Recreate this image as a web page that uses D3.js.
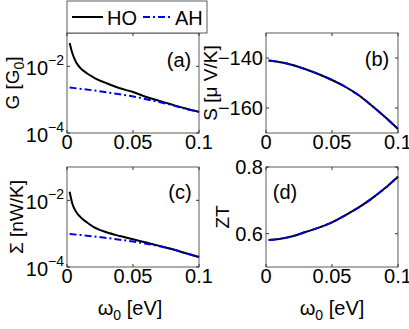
<!DOCTYPE html>
<html>
<head>
<meta charset="utf-8">
<script src="https://cdn.jsdelivr.net/npm/d3@7"></script>
<style>
  body { margin: 0; background: #fff; }
  text { font-family: "Liberation Sans Narrow", "Liberation Sans", Arial, sans-serif; }
</style>
</head>
<body>
<script>
// Define data
const omegaHO = [0.002, 0.004, 0.007, 0.01, 0.015, 0.02, 0.03, 0.04, 0.05, 0.06, 0.07, 0.08, 0.09, 0.1];
const gHO = [0.05, 0.025, 0.013, 0.009, 0.0062, 0.0047, 0.0031, 0.0022, 0.0017, 0.0012, 0.00092, 0.0007, 0.00054, 0.00043];
const sigmaHO = [0.018, 0.008, 0.0045, 0.0032, 0.0022, 0.0016, 0.0011, 0.00085, 0.00068, 0.00054, 0.00043, 0.00034, 0.00026, 0.0002];

const omegaAH = [0.002, 0.02, 0.04, 0.05, 0.06, 0.07, 0.08, 0.09, 0.1];
const gAH = [0.0023, 0.0019, 0.00145, 0.00125, 0.00103, 0.00085, 0.00068, 0.00053, 0.00043];
const sigmaAH = [0.00098, 0.00083, 0.00066, 0.00058, 0.0005, 0.00042, 0.00034, 0.00026, 0.0002];

const omegaS = [0.002, 0.01, 0.02, 0.03, 0.04, 0.05, 0.06, 0.07, 0.08, 0.09, 0.1];
const sHO = [-141, -141.6, -142.8, -144.5, -146.5, -148.8, -151.5, -154.8, -159, -163.5, -168.4];
const sAH = sHO.slice();
const ztHO = [0.581, 0.584, 0.592, 0.605, 0.618, 0.634, 0.655, 0.678, 0.705, 0.736, 0.771];
const ztAH = ztHO.slice();

const xTicks = [0, 0.05, 0.1];

const svg = d3.select("body").append("svg")
    .attr("width", 409)
    .attr("height", 329);

const boxW = 132, boxH = 100;
const fs = "20px";

function panel(opt) {
  const g = svg.append("g").attr("transform", "translate(" + opt.left + "," + opt.top + ")");
  const x = d3.scaleLinear().domain([0, 0.1]).range([0, boxW]);
  const y = opt.log
    ? d3.scaleLog().domain([1e-4, 1e-1]).range([boxH, 0])
    : d3.scaleLinear().domain(opt.domain).range([boxH, 0]);

  // frame
  g.append("rect").attr("width", boxW).attr("height", boxH)
    .attr("fill", "#fff").attr("stroke", "#333").attr("stroke-width", 0.8);

  // x ticks (inside, top and bottom)
  xTicks.forEach(function(t) {
    g.append("line").attr("x1", x(t)).attr("x2", x(t)).attr("y1", boxH).attr("y2", boxH - 3).attr("stroke", "#333");
    g.append("line").attr("x1", x(t)).attr("x2", x(t)).attr("y1", 0).attr("y2", 3).attr("stroke", "#333");
    g.append("text").attr("x", x(t)).attr("y", boxH + 16)
      .attr("text-anchor", "middle").style("font-size", fs)
      .text(t === 0 ? "0" : String(t));
  });

  // y ticks
  opt.yTicks.forEach(function(t) {
    g.append("line").attr("x1", 0).attr("x2", 3).attr("y1", y(t)).attr("y2", y(t)).attr("stroke", "#333");
    g.append("line").attr("x1", boxW).attr("x2", boxW - 3).attr("y1", y(t)).attr("y2", y(t)).attr("stroke", "#333");
    if (opt.log) {
      const lab = g.append("text").attr("x", -3).attr("y", y(t) + 9)
        .attr("text-anchor", "end").style("font-size", fs);
      lab.append("tspan").text("10");
      lab.append("tspan").attr("dy", -10).style("font-size", "14px").text("\u2212" + Math.round(-Math.log10(t)));
    } else {
      g.append("text").attr("x", -3).attr("y", y(t) + 7)
        .attr("text-anchor", "end").style("font-size", fs)
        .text(d3.format("")(t).replace("-", "\u2212"));
    }
  });

  const line = d3.line().x(d => x(d[0])).y(d => y(d[1])).curve(d3.curveMonotoneX);

  g.append("path").datum(d3.zip(opt.xHO, opt.yHO))
    .attr("d", line).attr("fill", "none").attr("stroke", "#000").attr("stroke-width", 2);
  g.append("path").datum(d3.zip(opt.xAH, opt.yAH))
    .attr("d", line).attr("fill", "none").attr("stroke", "#0000ee").attr("stroke-width", 2)
    .attr("stroke-dasharray", "7,3,2,3");

  // panel letter
  g.append("text").attr("x", opt.letterX).attr("y", opt.letterY)
    .attr("text-anchor", "middle").style("font-size", fs).text(opt.letter);

  // y label
  const yl = g.append("text")
    .attr("transform", "translate(" + opt.yLabelX + "," + (boxH / 2) + ") rotate(-90)")
    .attr("text-anchor", "middle").style("font-size", "19px");
  opt.yLabel(yl);
}

function sub(el, main, s, rest) {
  el.append("tspan").text(main);
  el.append("tspan").attr("dy", 5).style("font-size", "14px").text(s);
  el.append("tspan").attr("dy", -5).text(rest);
}

panel({
  left: 67, top: 33, log: true, yTicks: [1e-2, 1e-4],
  xHO: omegaHO, yHO: gHO, xAH: omegaAH, yAH: gAH,
  letter: "(a)", letterX: 112, letterY: 34,
  yLabelX: -48, yLabel: el => sub(el, "G [G", "0", "]")
});
panel({
  left: 266, top: 33, domain: [-170, -130], yTicks: [-140, -160],
  xHO: omegaS, yHO: sHO, xAH: omegaS, yAH: sAH,
  letter: "(b)", letterX: 111, letterY: 33,
  yLabelX: -49, yLabel: el => el.text("S [\u03bc V/K]")
});
panel({
  left: 67, top: 167, log: true, yTicks: [1e-2, 1e-4],
  xHO: omegaHO, yHO: sigmaHO, xAH: omegaAH, yAH: sigmaAH,
  letter: "(c)", letterX: 113, letterY: 32,
  yLabelX: -44, yLabel: el => el.text("\u03a3 [nW/K]")
});
panel({
  left: 266, top: 167, domain: [0.5, 0.8], yTicks: [0.6, 0.8],
  xHO: omegaS, yHO: ztHO, xAH: omegaS, yAH: ztAH,
  letter: "(d)", letterX: 19, letterY: 32,
  yLabelX: -37, yLabel: el => el.text("ZT")
});

// x labels
[130, 332].forEach(function(cx) {
  const t = svg.append("text").attr("x", cx).attr("y", 315)
    .attr("text-anchor", "middle").style("font-size", fs);
  sub(t, "\u03c9", "0", " [eV]");
});

// legend
const leg = svg.append("g");
leg.append("rect").attr("x", 67).attr("y", 1).attr("width", 140).attr("height", 32)
  .attr("fill", "#fff").attr("stroke", "#333").attr("stroke-width", 0.8);
leg.append("line").attr("x1", 72).attr("x2", 103).attr("y1", 17).attr("y2", 17)
  .attr("stroke", "#000").attr("stroke-width", 2);
leg.append("text").attr("x", 107).attr("y", 25).style("font-size", fs).text("HO");
leg.append("line").attr("x1", 143).attr("x2", 172).attr("y1", 17).attr("y2", 17)
  .attr("stroke", "#0000ee").attr("stroke-width", 2).attr("stroke-dasharray", "7,3,2,3");
leg.append("text").attr("x", 175).attr("y", 25).style("font-size", fs).text("AH");
</script>
</body>
</html>
